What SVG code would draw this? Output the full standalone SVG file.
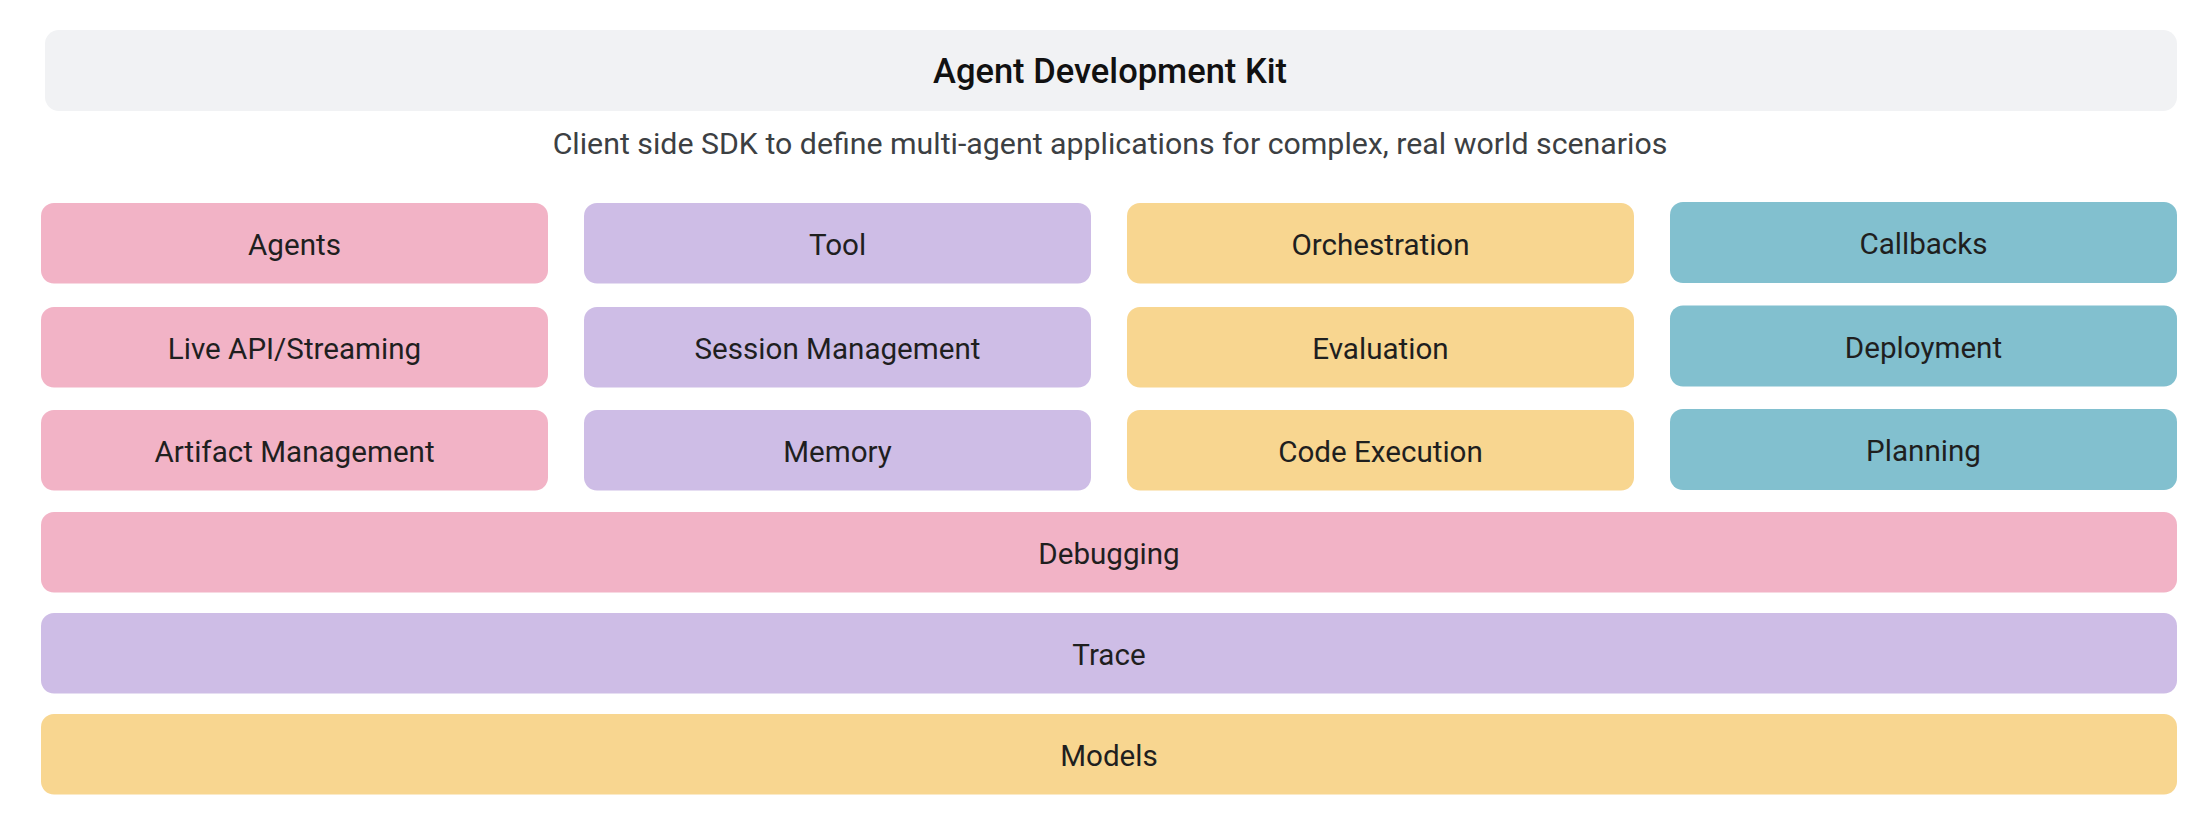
<svg xmlns="http://www.w3.org/2000/svg" width="2210" height="816" viewBox="0 0 2210 816">
<style>
text{font-family:Roboto,"Liberation Sans",sans-serif;text-anchor:middle;fill:#1f1f1f}
.lbl{font-size:29.6px}
.title{font-size:34.5px;font-weight:500;fill:#111}
.sub{font-size:30.3px;fill:#3c4043}
.pink{fill:#f2b3c6}
.lav{fill:#cebde6}
.yel{fill:#f8d690}
.teal{fill:#82c0cf}
.hdr{fill:#f1f2f4}
</style>
<rect width="2210" height="816" fill="#ffffff"/>
<g id="header">
<rect class="hdr" x="45" y="30" width="2132" height="81" rx="14"/>
<text class="title" x="1110" y="83">Agent Development Kit</text>
</g>
<text class="sub" x="1110" y="154">Client side SDK to define multi-agent applications for complex, real world scenarios</text>
<g id="agents"><rect class="pink" x="41" y="203" width="507" height="80.5" rx="13"/><text class="lbl" x="294.5" y="255">Agents</text></g>
<g id="tool"><rect class="lav" x="584" y="203" width="507" height="80.5" rx="13"/><text class="lbl" x="837.5" y="255">Tool</text></g>
<g id="orchestration"><rect class="yel" x="1127" y="203" width="507" height="80.5" rx="13"/><text class="lbl" x="1380.5" y="255">Orchestration</text></g>
<g id="callbacks"><rect class="teal" x="1670" y="202" width="507" height="81" rx="13"/><text class="lbl" x="1923.5" y="254">Callbacks</text></g>
<g id="live-api"><rect class="pink" x="41" y="307" width="507" height="80.5" rx="13"/><text class="lbl" x="294.5" y="359">Live API/Streaming</text></g>
<g id="session-management"><rect class="lav" x="584" y="307" width="507" height="80.5" rx="13"/><text class="lbl" x="837.5" y="359">Session Management</text></g>
<g id="evaluation"><rect class="yel" x="1127" y="307" width="507" height="80.5" rx="13"/><text class="lbl" x="1380.5" y="359">Evaluation</text></g>
<g id="deployment"><rect class="teal" x="1670" y="305.5" width="507" height="81" rx="13"/><text class="lbl" x="1923.5" y="357.5">Deployment</text></g>
<g id="artifact-management"><rect class="pink" x="41" y="410" width="507" height="80.5" rx="13"/><text class="lbl" x="294.5" y="462">Artifact Management</text></g>
<g id="memory"><rect class="lav" x="584" y="410" width="507" height="80.5" rx="13"/><text class="lbl" x="837.5" y="462">Memory</text></g>
<g id="code-execution"><rect class="yel" x="1127" y="410" width="507" height="80.5" rx="13"/><text class="lbl" x="1380.5" y="462">Code Execution</text></g>
<g id="planning"><rect class="teal" x="1670" y="409" width="507" height="81" rx="13"/><text class="lbl" x="1923.5" y="461">Planning</text></g>
<g id="debugging"><rect class="pink" x="41" y="512" width="2136" height="80.5" rx="13"/><text class="lbl" x="1109" y="564">Debugging</text></g>
<g id="trace"><rect class="lav" x="41" y="613" width="2136" height="80.5" rx="13"/><text class="lbl" x="1109" y="665">Trace</text></g>
<g id="models"><rect class="yel" x="41" y="714" width="2136" height="80.5" rx="13"/><text class="lbl" x="1109" y="766">Models</text></g>
<g id="connectors"></g>
</svg>
